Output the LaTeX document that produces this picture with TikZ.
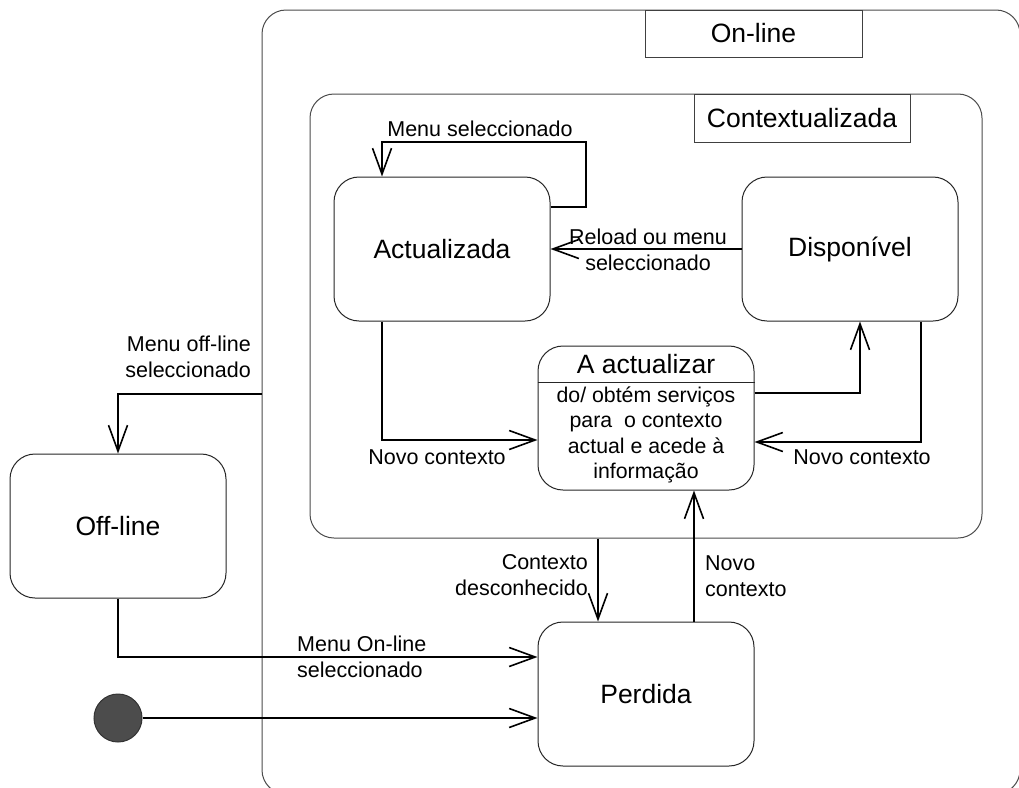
\documentclass[tikz,border=0pt]{standalone}
\usepackage{fontspec}
\setmainfont{Liberation Sans}
\usetikzlibrary{arrows.meta}
\begin{document}
\begin{tikzpicture}[x=1pt,y=-1pt,
  frame/.style={draw=black!70, line width=1pt, rounded corners=24pt, inner sep=0pt},
  statebox/.style={draw=black!85, line width=1pt, rounded corners=25pt, inner sep=0pt,
    minimum width=216pt, minimum height=144pt, font=\fontsize{26.5}{30}\selectfont},
  tagbox/.style={draw=black!75, line width=1pt, inner sep=0pt, font=\fontsize{26.5}{30}\selectfont},
  lbl/.style={font=\fontsize{21.5}{25.5}\selectfont, align=center, inner sep=0pt},
  conn/.style={line width=2pt, -{Straight Barb[length=26pt,width=19pt,line width=1.6pt]}},
  plain/.style={line width=2pt}]
\useasboundingbox (0,0) rectangle (1019,787);
\clip (0,0) rectangle (1019,787);
\fill[white] (0,0) rectangle (1019,787);

% frames
\node[frame, minimum width=758pt, minimum height=784pt] (online) at (641,402) {};
\node[tagbox, minimum width=217pt, minimum height=47pt] (onlinetag) at (753.5,33.5) {On-line};
\node[frame, minimum width=672pt, minimum height=444pt] (ctx) at (646,316) {};
\node[tagbox, minimum width=216pt, minimum height=48pt] (ctxtag) at (802,118) {Contextualizada};

% states
\node[statebox] (act) at (442,249) {Actualizada};
\node[statebox] (disp) at (850,249) {Disponível};
\node[statebox] (aa) at (646,418) {};
\draw[line width=1pt, draw=black!85] (aa.west |- 0,382) -- (aa.east |- 0,382);
\node[font=\fontsize{26.5}{30}\selectfont, inner sep=0pt] (aatitle) at (646,364) {A actualizar};
\node[lbl, font=\fontsize{21.3}{25.6}\selectfont] (aabody) at (646,435) {do/ obtém serviços\\para~~o contexto\\actual e acede à\\informação};
\node[statebox] (perd) at (646,694) {Perdida};
\node[statebox] (off) at (118,526) {Off-line};
\node[circle, fill=black!70, draw=black!80, line width=1pt, minimum size=48pt, inner sep=0pt] (init) at (118,718) {};

% connectors
\draw[conn] ([yshift=-30pt]act.north east) -| (586,142) -| ([xshift=-60pt]act.north);
\node[lbl] (l1) at (480,129) {Menu seleccionado};

\draw[conn] (disp.west) -- (act.east);
\node[lbl] (l2) at (648,250) {Reload ou menu\\seleccionado};

\draw[conn] ([xshift=-60pt]act.south) |- ([yshift=-22pt]aa.west);
\node[lbl] (l3) at (437,457) {Novo contexto};

\draw[conn] ([yshift=25pt]aa.east) -| ([xshift=10pt]disp.south);

\draw[conn] ([xshift=71pt]disp.south) |- ([yshift=-24pt]aa.east);
\node[lbl] (l4) at (862,457) {Novo contexto};

\draw[conn] ([xshift=48pt]perd.north) -- ([xshift=48pt]aa.south);
\node[lbl, align=left, anchor=west] (l5) at (705,576) {Novo\\contexto};

\draw[conn] ([xshift=-48pt]perd.north |- ctx.south) -- ([xshift=-48pt]perd.north);
\node[lbl, align=right, anchor=east] (l6) at (588,575) {Contexto\\desconhecido};

\draw[conn] (online.west |- 0,394) -| (off.north);
\node[lbl, align=right, anchor=east] (l7) at (251,357) {Menu off-line\\seleccionado};

\draw[conn] (off.south) |- ([yshift=37pt]perd.west);
\node[lbl, align=left, anchor=west] (l8) at (297,657) {Menu On-line\\seleccionado};

\draw[conn] (init.east) -- ([yshift=-24pt]perd.west);
\end{tikzpicture}
\end{document}
